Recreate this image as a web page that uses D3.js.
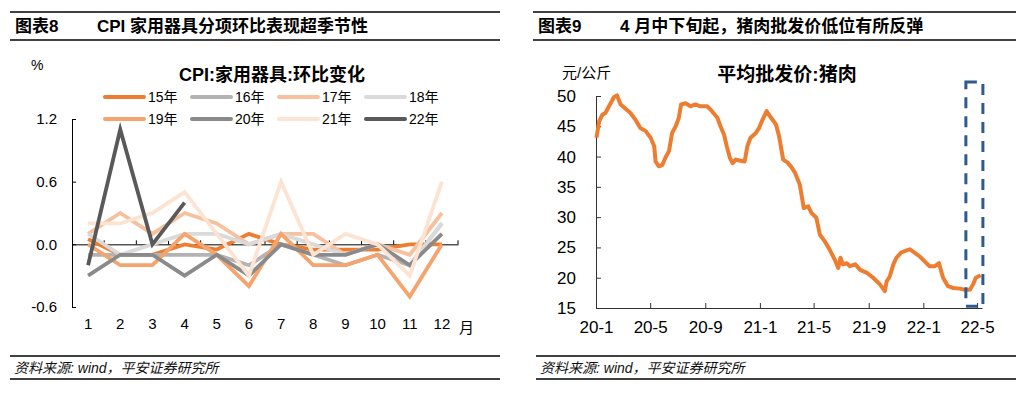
<!DOCTYPE html>
<html><head><meta charset="utf-8">
<script src="https://cdn.jsdelivr.net/npm/d3@7"></script>
<style>
html,body{margin:0;padding:0;background:#fff;}
svg{display:block;font-family:"Liberation Sans","Noto Sans CJK SC",Arial,sans-serif;}
</style></head>
<body>
<svg id="c" width="1026" height="393"></svg>
<script>
// ---------- Data: left chart (CPI 家用器具 环比, %) ----------
const months = [1,2,3,4,5,6,7,8,9,10,11,12];
const monthTicks = [-0.6, 0, 0.6, 1.2];
const years = ["15年","16年","17年","18年","19年","20年","21年","22年"];
const yearColors = ["#ED7D31","#B3B3B3","#F6C19C","#DADADA","#F4A46C","#8A8A8A","#FCE3D2","#595959"];
const s15 = [0.05,-0.1,-0.1,0.0,-0.05,0.1,0.0,-0.05,-0.05,-0.05,0.0,0.0];
const s16 = [-0.1,-0.1,-0.1,-0.1,-0.1,-0.2,0.0,-0.1,-0.2,-0.1,-0.2,0.2];
const s17 = [0.1,0.3,0.1,0.3,0.2,0.0,0.1,0.1,-0.1,0.0,-0.1,0.3];
const s18 = [0.1,-0.1,0.0,0.1,0.1,0.0,0.1,0.0,-0.1,0.0,-0.2,0.2];
const s19 = [0.0,-0.2,-0.2,0.1,-0.1,-0.4,0.1,-0.2,-0.2,-0.1,-0.5,0.0];
const s20 = [-0.3,-0.1,-0.1,-0.3,-0.1,-0.3,0.0,-0.1,-0.1,0.0,-0.2,0.1];
const s21 = [0.2,0.2,0.3,0.5,0.1,-0.3,0.6,-0.1,0.1,0.0,-0.3,0.6];
const s22 = [-0.2,1.1,0.0,0.4];
const seriesValues = [s15,s16,s17,s18,s19,s20,s21,s22];

// ---------- Data: right chart (平均批发价:猪肉, 元/公斤) ----------
const porkDates = ["2020-01-02","2020-01-08","2020-01-15","2020-01-22","2020-01-30","2020-02-10","2020-02-17","2020-02-25",
"2020-03-07","2020-03-18","2020-03-29","2020-04-09","2020-04-21","2020-05-02","2020-05-10","2020-05-13","2020-05-20",
"2020-05-28","2020-06-04","2020-06-12","2020-06-19","2020-06-27","2020-07-04","2020-07-09","2020-07-19","2020-07-30",
"2020-08-10","2020-08-21","2020-09-05","2020-09-16","2020-09-28","2020-10-05","2020-10-13","2020-10-19","2020-10-26",
"2020-11-01","2020-11-08","2020-11-19","2020-11-28","2020-12-04","2020-12-11","2020-12-23","2020-12-30","2021-01-07",
"2021-01-16","2021-01-26","2021-02-06","2021-02-13","2021-02-22","2021-03-04","2021-03-12","2021-03-20","2021-03-31",
"2021-04-09","2021-04-19","2021-04-26","2021-05-07","2021-05-15","2021-05-26","2021-06-06","2021-06-17","2021-06-25",
"2021-06-30","2021-07-05","2021-07-14","2021-07-21","2021-08-02","2021-08-13","2021-08-28","2021-09-11","2021-09-26",
"2021-10-07","2021-10-11","2021-10-18","2021-10-26","2021-11-02","2021-11-13","2021-11-25","2021-12-02","2021-12-13",
"2021-12-24","2022-01-04","2022-01-15","2022-01-27","2022-02-05","2022-02-14","2022-02-25","2022-03-09","2022-03-24",
"2022-04-04","2022-04-15","2022-04-22","2022-04-28","2022-05-09"];
const porkValues = [43.1,45.8,46.9,47.2,48.3,49.8,50.1,48.6,
47.9,47.2,46.1,44.7,44.2,43.1,41.7,39.2,38.4,
38.6,39.8,40.9,43.9,45.0,46.4,48.6,48.8,48.3,
48.6,48.3,48.3,47.5,46.4,45.0,43.6,41.7,39.8,
38.9,39.5,39.3,39.2,41.7,43.1,43.9,44.7,46.1,
47.5,46.4,45.3,43.3,39.5,39.0,38.3,37.4,35.4,
31.5,31.8,30.7,29.9,27.1,26.0,24.6,23.0,21.6,
23.3,22.2,22.4,21.9,22.2,21.3,20.8,20.0,18.9,
17.8,19.4,20.2,22.2,23.3,24.2,24.5,24.7,24.1,
23.5,22.7,21.9,21.9,22.4,20.0,18.6,18.3,18.2,
18.0,18.0,18.9,20.0,20.4];
const porkTicks = [15,20,25,30,35,40,45,50];
const porkDomainDates = ["2020-01-01","2022-05-12"];
const boxDates = ["2022-04-06","2022-05-14"];
const boxValues = [52.3, 15.3];

// ---------- Common frame ----------
const svg = d3.select("#c");
const parse = d3.timeParse("%Y-%m-%d");

function frame(x0, x1, fx0, label, title) {
  svg.append("line").attr("x1",x0).attr("x2",x1).attr("y1",12).attr("y2",12).attr("stroke","#000").attr("stroke-width",1.5);
  svg.append("line").attr("x1",x0).attr("x2",x1).attr("y1",40).attr("y2",40).attr("stroke","#000").attr("stroke-width",1.5);
  svg.append("text").attr("x",x0+5).attr("y",32).attr("font-size",17).attr("font-weight","bold").text(label);
  svg.append("text").attr("x",x0+87).attr("y",32).attr("font-size",17).attr("font-weight","bold").text(title);
  svg.append("line").attr("x1",fx0).attr("x2",x1).attr("y1",356).attr("y2",356).attr("stroke","#000").attr("stroke-width",1.5);
  svg.append("line").attr("x1",fx0).attr("x2",x1).attr("y1",379).attr("y2",379).attr("stroke","#000").attr("stroke-width",1.5);
  svg.append("text").attr("x",fx0+4).attr("y",373).attr("font-size",14).attr("font-style","italic").attr("fill","#111")
     .text("资料来源: wind，平安证券研究所");
}
frame(10, 500, 10, "图表8", "CPI 家用器具分项环比表现超季节性");
frame(533, 1016, 536, "图表9", "4 月中下旬起，猪肉批发价低位有所反弹");

// ---------- Left chart ----------
const xL = d3.scaleBand().domain(months).range([72, 458]).padding(0);
const yL = d3.scaleLinear().domain([-0.6, 1.2]).range([307, 119]);
const fmt = d => d3.format(".1f")(d).replace("\u2212","-");

const gYL = svg.append("g").attr("transform","translate(72,0)")
  .call(d3.axisLeft(yL).tickValues(monthTicks).tickSizeInner(-4).tickSizeOuter(0).tickPadding(15).tickFormat(fmt));
gYL.selectAll("text").attr("font-size",15).attr("fill","#000").attr("font-family",null);
gYL.selectAll("path,line").attr("stroke","#000");

// zero axis line with ticks at category boundaries
const gXL = svg.append("g").attr("transform",`translate(0,${yL(0)})`)
  .call(d3.axisBottom(xL).tickSize(0).tickFormat(""));
gXL.select(".domain").attr("stroke","#000");
gXL.selectAll(".tick").remove();
gXL.selectAll("line.bnd").data(months).enter().append("line").attr("class","bnd")
  .attr("x1", m => xL(m) + xL.bandwidth()).attr("x2", m => xL(m) + xL.bandwidth())
  .attr("y1", 0).attr("y2", -4).attr("stroke","#000");

// month labels at bottom
const gXLab = svg.append("g").attr("transform","translate(0,318)")
  .call(d3.axisBottom(xL).tickSize(0).tickPadding(0));
gXLab.select(".domain").remove();
gXLab.selectAll("text").attr("font-size",15).attr("fill","#000").attr("font-family",null);
svg.append("text").attr("x",459).attr("y",333).attr("font-size",15).text("月");
svg.append("text").attr("x",31).attr("y",70).attr("font-size",14).text("%");
svg.append("text").attr("x",272).attr("y",81).attr("text-anchor","middle").attr("font-size",18).attr("font-weight","bold").text("CPI:家用器具:环比变化");

const lineL = d3.line().x((d,i) => xL(months[i]) + xL.bandwidth()/2).y(d => yL(d));
seriesValues.forEach((vals, k) => {
  svg.append("path").datum(vals).attr("d", lineL).attr("fill","none")
    .attr("stroke", yearColors[k]).attr("stroke-width", 3.8).attr("stroke-linejoin","miter").attr("stroke-linecap","butt");
});

// legend
years.forEach((y, k) => {
  const col = k % 4, row = Math.floor(k / 4);
  const lx = 104 + col * 87, ly = 97 + row * 22;
  svg.append("line").attr("x1",lx+1).attr("x2",lx+40).attr("y1",ly).attr("y2",ly)
    .attr("stroke",yearColors[k]).attr("stroke-width",4).attr("stroke-linecap","round");
  svg.append("text").attr("x",lx+44).attr("y",ly+5).attr("font-size",14).text(y);
});

// ---------- Right chart ----------
const xR = d3.scaleTime().domain(porkDomainDates.map(parse)).range([596, 982]);
const yR = d3.scaleLinear().domain([15, 50]).range([308, 96]);

const gYR = svg.append("g").attr("transform","translate(596,0)")
  .call(d3.axisLeft(yR).tickValues(porkTicks).tickSizeInner(-5).tickSizeOuter(0).tickPadding(20));
gYR.selectAll("text").attr("font-size",17).attr("fill","#000").attr("font-family",null);
gYR.selectAll("path,line").attr("stroke","#333");

const gXR = svg.append("g").attr("transform","translate(0,308)")
  .call(d3.axisBottom(xR).ticks(d3.timeMonth.every(4)).tickSizeInner(-5).tickSizeOuter(0).tickFormat(d3.timeFormat("%y-%-m")));
gXR.selectAll("text").attr("font-size",17).attr("fill","#000").attr("font-family",null).attr("y",13);
gXR.selectAll("path,line").attr("stroke","#333");

svg.append("text").attr("x",562).attr("y",78).attr("font-size",15).text("元/公斤");
svg.append("text").attr("x",787).attr("y",81).attr("text-anchor","middle").attr("font-size",19).attr("font-weight","bold").text("平均批发价:猪肉");

const porkData = porkDates.map((d,i) => ({date: parse(d), v: porkValues[i]}));
svg.append("path").datum(porkData)
  .attr("d", d3.line().x(d => xR(d.date)).y(d => yR(d.v)))
  .attr("fill","none").attr("stroke","#ED7D31").attr("stroke-width",4).attr("stroke-linejoin","round");

const bx0 = xR(parse(boxDates[0])), bx1 = xR(parse(boxDates[1]));
svg.append("rect").attr("x",bx0).attr("y",yR(boxValues[0]))
  .attr("width",bx1-bx0).attr("height",yR(boxValues[1])-yR(boxValues[0]))
  .attr("fill","none").attr("stroke","#2F5A8C").attr("stroke-width",3).attr("stroke-dasharray","11,8");
</script>
</body></html>
